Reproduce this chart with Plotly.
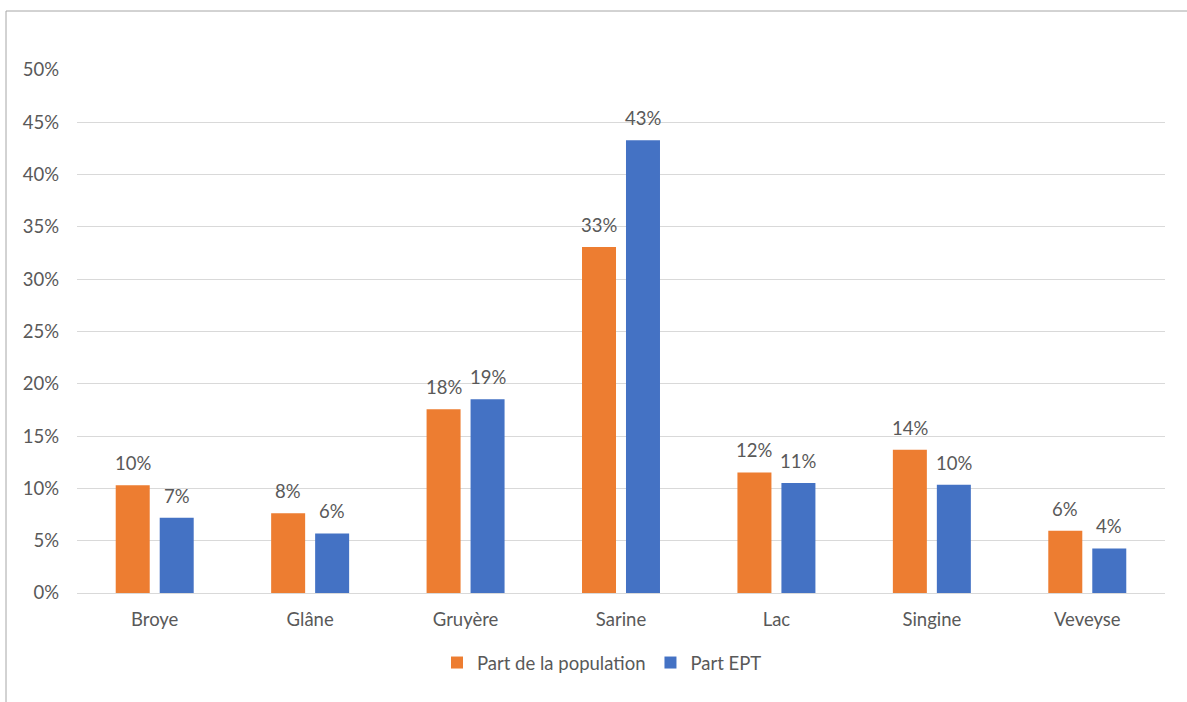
import plotly.graph_objects as go

districts = ["Broye", "Glâne", "Gruyère", "Sarine", "Lac", "Singine", "Veveyse"]
part_population = [0.1031, 0.0763, 0.1756, 0.3308, 0.1153, 0.1370, 0.0596]
part_ept = [0.0720, 0.0569, 0.1852, 0.4328, 0.1052, 0.1035, 0.0426]
y_ticks = [0, 0.05, 0.10, 0.15, 0.20, 0.25, 0.30, 0.35, 0.40, 0.45, 0.50]

FONT = "Lato, Open Sans, sans-serif"
TEXT = "#595959"
FS = 18.5

series = [
    ("Part de la population", part_population, "#ED7D31", -22),
    ("Part EPT", part_ept, "#4472C4", 22),
]

fig = go.Figure()
annotations = []
for name, values, color, dx in series:
    fig.add_trace(go.Bar(
        name=name, x=districts, y=values,
        marker=dict(color=color, line=dict(width=0)),
    ))
    # value labels above each bar
    for d, v in zip(districts, values):
        annotations.append(dict(
            x=d, y=v, xref="x", yref="y", text=f"{v:.0%}", showarrow=False,
            xshift=dx, yshift=9, yanchor="bottom", xanchor="center",
            font=dict(family=FONT, size=FS, color=TEXT),
        ))

L, R, T, B = 77, 22, 70, 109
W, H = 1187, 702
pw, ph = W - L - R, H - T - B

def px(x):
    return (x - L) / pw

def py(y):
    return (H - B - y) / ph

fig.update_layout(
    width=W, height=H,
    margin=dict(l=L, r=R, t=T, b=B),
    paper_bgcolor="white", plot_bgcolor="white",
    barmode="group", bargap=0.434, bargroupgap=0.227,
    font=dict(family=FONT, size=FS, color=TEXT),
    showlegend=True,
    legend=dict(orientation="h", x=px(602), xanchor="center", y=py(663), yanchor="middle",
                font=dict(family=FONT, size=FS, color=TEXT),
                itemwidth=30, tracegroupgap=0, traceorder="normal"),
    xaxis=dict(showgrid=False, showline=True, linecolor="#d9d9d9", linewidth=1,
               ticks="", ticklabelstandoff=10,
               tickfont=dict(family=FONT, size=FS, color=TEXT)),
    yaxis=dict(range=[0, 0.5], tickvals=y_ticks, tickformat=".0%",
               showgrid=True, gridcolor="#d9d9d9", gridwidth=1,
               zeroline=True, zerolinecolor="#d9d9d9", zerolinewidth=1,
               showline=False, ticks="", ticklabelstandoff=17,
               tickfont=dict(family=FONT, size=FS, color=TEXT)),
    annotations=annotations,
    shapes=[
        dict(type="line", xref="paper", yref="paper", x0=px(6), x1=px(W + 5),
             y0=py(11), y1=py(11), line=dict(color="#a6a6a6", width=1)),
        dict(type="line", xref="paper", yref="paper", x0=px(6), x1=px(6),
             y0=py(11), y1=py(H + 5), line=dict(color="#a6a6a6", width=1)),
    ],
)

fig.write_html("out.html")
